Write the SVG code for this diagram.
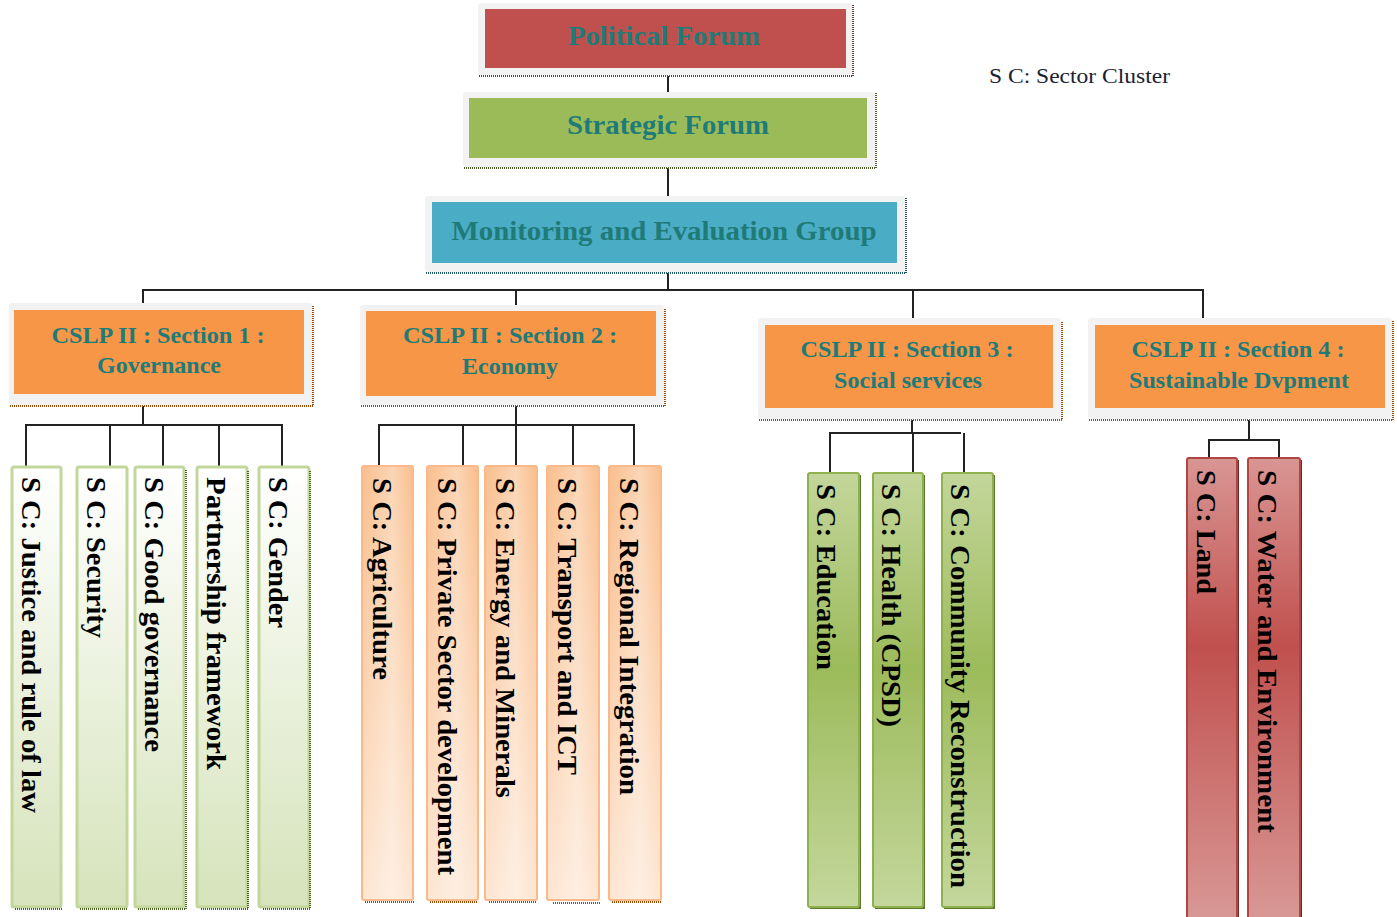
<svg xmlns="http://www.w3.org/2000/svg" width="1397" height="917" viewBox="0 0 1397 917">
<defs>
<linearGradient id="gLeaf1" x1="0" y1="0" x2="0" y2="1"><stop offset="0" stop-color="#ffffff"/><stop offset="1" stop-color="#d6e3bb"/></linearGradient>
<linearGradient id="gLeaf2" x1="0" y1="0" x2="0" y2="1"><stop offset="0" stop-color="#f9bf8e"/><stop offset="1" stop-color="#fde6d3"/></linearGradient>
<linearGradient id="gLeaf2h" x1="0" y1="0" x2="1" y2="0"><stop offset="0" stop-color="#ffffff" stop-opacity="0"/><stop offset="0.6" stop-color="#ffffff" stop-opacity="0.35"/><stop offset="1" stop-color="#ffffff" stop-opacity="0"/></linearGradient>
<linearGradient id="gLeaf3" x1="0" y1="0" x2="0" y2="1"><stop offset="0" stop-color="#c3d69b"/><stop offset="0.45" stop-color="#9cbb5a"/><stop offset="1" stop-color="#c4d79d"/></linearGradient>
<linearGradient id="gLeaf4" x1="0" y1="0" x2="0" y2="1"><stop offset="0" stop-color="#d99694"/><stop offset="0.4" stop-color="#c0504d"/><stop offset="1" stop-color="#d99a98"/></linearGradient>
</defs>
<style>
.frame{fill:#f2f2f2}
.t-main{font-family:"Liberation Serif","Times New Roman",serif;font-weight:bold;fill:#1e7b78;text-anchor:middle}
.t-leaf{font-family:"Liberation Serif","Times New Roman",serif;font-size:28px;font-weight:bold;fill:#000}
.dot{fill:none;stroke-width:2;stroke-dasharray:1 1}
.conn line{stroke:#222;stroke-width:2}
.l1{fill:url(#gLeaf1);stroke:#c3d69b;stroke-width:3}
.l2{fill:url(#gLeaf2);stroke:#f9b98a;stroke-width:2}
.l3{fill:url(#gLeaf3);stroke:#8fb04e;stroke-width:2}
.l4{fill:url(#gLeaf4);stroke:#b04643;stroke-width:2}
</style>
<rect width="1397" height="917" fill="#ffffff"/>

<g id="connectors" class="conn">
<line x1="668" y1="76" x2="668" y2="92"/>
<line x1="668" y1="168" x2="668" y2="196"/>
<line x1="668" y1="273" x2="668" y2="290"/>
<line x1="142" y1="290" x2="1204" y2="290"/>
<line x1="143" y1="290" x2="143" y2="303"/>
<line x1="516" y1="290" x2="516" y2="305"/>
<line x1="913" y1="290" x2="913" y2="318"/>
<line x1="1203" y1="290" x2="1203" y2="318"/>
<line x1="143" y1="406" x2="143" y2="425"/>
<line x1="25" y1="425" x2="283" y2="425"/>
<line x1="26" y1="425" x2="26" y2="466"/>
<line x1="110" y1="425" x2="110" y2="466"/>
<line x1="163" y1="425" x2="163" y2="466"/>
<line x1="219" y1="425" x2="219" y2="466"/>
<line x1="282" y1="425" x2="282" y2="466"/>
<line x1="516" y1="406" x2="516" y2="425"/>
<line x1="378" y1="425" x2="635" y2="425"/>
<line x1="379" y1="425" x2="379" y2="466"/>
<line x1="463" y1="425" x2="463" y2="466"/>
<line x1="516" y1="425" x2="516" y2="466"/>
<line x1="573" y1="425" x2="573" y2="466"/>
<line x1="634" y1="425" x2="634" y2="466"/>
<line x1="912" y1="420" x2="912" y2="433"/>
<line x1="829" y1="433" x2="961" y2="433"/>
<line x1="830" y1="433" x2="830" y2="473"/>
<line x1="913" y1="433" x2="913" y2="473"/>
<line x1="964" y1="433" x2="964" y2="473"/>
<line x1="1249" y1="420" x2="1249" y2="440"/>
<line x1="1208" y1="440" x2="1280" y2="440"/>
<line x1="1209" y1="440" x2="1209" y2="458"/>
<line x1="1279" y1="440" x2="1279" y2="458"/>
</g>

<g id="political-forum">
<rect class="frame" x="478" y="3" width="374" height="72" rx="3"/>
<rect x="485" y="9" width="361" height="59" fill="#c0504d"/>
<path class="dot" d="M479 76 H853 V5" stroke="#6b3a38"/>
<text class="t-main" x="664" y="45" font-size="28" textLength="192" lengthAdjust="spacingAndGlyphs">Political Forum</text>
</g>

<g id="strategic-forum">
<rect class="frame" x="463" y="92" width="412" height="75" rx="3"/>
<rect x="469" y="98" width="398" height="60" fill="#9bbb59"/>
<path class="dot" d="M464 168 H876 V93" stroke="#4f6229"/>
<text class="t-main" x="668" y="134" font-size="28" textLength="202" lengthAdjust="spacingAndGlyphs">Strategic Forum</text>
</g>

<g id="me-group">
<rect class="frame" x="425" y="196" width="480" height="76" rx="3"/>
<rect x="432" y="202" width="465" height="61" fill="#4bacc6"/>
<path class="dot" d="M426 273 H906 V197" stroke="#205867"/>
<text class="t-main" x="664" y="240" font-size="28" textLength="425" lengthAdjust="spacingAndGlyphs">Monitoring and Evaluation Group</text>
</g>

<g id="legend">
<text x="989" y="83" font-family="'Liberation Serif','Times New Roman',serif" font-size="21" fill="#1c2233" textLength="181" lengthAdjust="spacingAndGlyphs">S C: Sector Cluster</text>
</g>

<g id="section-1">
<rect class="frame" x="9" y="303" width="303" height="102" rx="3"/>
<rect x="14" y="310" width="290" height="84" fill="#f79646"/>
<path class="dot" d="M10 406 H313 V306" stroke="#984807"/>
<text class="t-main" x="158" y="343" font-size="23" textLength="213" lengthAdjust="spacingAndGlyphs">CSLP II : Section 1 :</text>
<text class="t-main" x="159" y="373" font-size="23" textLength="124" lengthAdjust="spacingAndGlyphs">Governance</text>
</g>

<g id="section-2">
<rect class="frame" x="360" y="305" width="304" height="100" rx="3"/>
<rect x="366" y="311" width="290" height="85" fill="#f79646"/>
<path class="dot" d="M361 406 H665 V308" stroke="#984807"/>
<text class="t-main" x="510" y="343" font-size="23" textLength="214" lengthAdjust="spacingAndGlyphs">CSLP II : Section 2 :</text>
<text class="t-main" x="510" y="374" font-size="23" textLength="96" lengthAdjust="spacingAndGlyphs">Economy</text>
</g>

<g id="section-3">
<rect class="frame" x="758" y="318" width="303" height="101" rx="3"/>
<rect x="765" y="325" width="288" height="83" fill="#f79646"/>
<path class="dot" d="M759 420 H1062 V321" stroke="#984807"/>
<text class="t-main" x="907" y="357" font-size="23" textLength="213" lengthAdjust="spacingAndGlyphs">CSLP II : Section 3 :</text>
<text class="t-main" x="908" y="388" font-size="23" textLength="148" lengthAdjust="spacingAndGlyphs">Social services</text>
</g>

<g id="section-4">
<rect class="frame" x="1088" y="318" width="304" height="101" rx="3"/>
<rect x="1095" y="325" width="290" height="83" fill="#f79646"/>
<path class="dot" d="M1089 420 H1393 V321" stroke="#984807"/>
<text class="t-main" x="1238" y="357" font-size="23" textLength="213" lengthAdjust="spacingAndGlyphs">CSLP II : Section 4 :</text>
<text class="t-main" x="1239" y="388" font-size="23" textLength="220" lengthAdjust="spacingAndGlyphs">Sustainable Dvpment</text>
</g>

<!-- Group 1 leaves -->
<g id="sc-justice">
<rect class="l1" x="12" y="467" width="49" height="440" rx="2"/>
<path class="dot" d="M15 909 H62" stroke="#4f6229"/>
<text class="t-leaf" transform="translate(22,477) rotate(90)" textLength="336" lengthAdjust="spacingAndGlyphs">S C: Justice and rule of law</text>
</g>
<g id="sc-security">
<rect class="l1" x="77" y="467" width="50" height="440" rx="2"/>
<path class="dot" d="M80 909 H127" stroke="#4f6229"/>
<text class="t-leaf" transform="translate(87,477) rotate(90)" textLength="161" lengthAdjust="spacingAndGlyphs">S C: Security</text>
</g>
<g id="sc-good-governance">
<rect class="l1" x="135" y="467" width="49" height="440" rx="2"/>
<path class="dot" d="M138 909 H186 V470" stroke="#4f6229"/>
<text class="t-leaf" transform="translate(145,477) rotate(90)" textLength="275" lengthAdjust="spacingAndGlyphs">S C: Good governance</text>
</g>
<g id="partnership-framework">
<rect class="l1" x="197" y="467" width="50" height="440" rx="2"/>
<path class="dot" d="M201 909 H248 V470" stroke="#4f6229"/>
<text class="t-leaf" transform="translate(207,477) rotate(90)" textLength="293" lengthAdjust="spacingAndGlyphs">Partnership framework</text>
</g>
<g id="sc-gender">
<rect class="l1" x="259" y="467" width="50" height="440" rx="2"/>
<path class="dot" d="M263 909 H310 V470" stroke="#4f6229"/>
<text class="t-leaf" transform="translate(269,477) rotate(90)" textLength="151" lengthAdjust="spacingAndGlyphs">S C: Gender</text>
</g>

<!-- Group 2 leaves -->
<g id="sc-agriculture">
<rect class="l2" x="362" y="466" width="51" height="434" rx="2"/>
<rect x="363" y="467" width="49" height="432" fill="url(#gLeaf2h)"/>
<path class="dot" d="M365 902 H414" stroke="#984807"/>
<text class="t-leaf" transform="translate(373,478) rotate(90)" textLength="202" lengthAdjust="spacingAndGlyphs">S C: Agriculture</text>
</g>
<g id="sc-private-sector">
<rect class="l2" x="427" y="466" width="51" height="434" rx="2"/>
<rect x="428" y="467" width="49" height="432" fill="url(#gLeaf2h)"/>
<path class="dot" d="M430 902 H478" stroke="#984807"/>
<text class="t-leaf" transform="translate(438,478) rotate(90)" textLength="397" lengthAdjust="spacingAndGlyphs">S C: Private Sector development</text>
</g>
<g id="sc-energy">
<rect class="l2" x="485" y="466" width="52" height="434" rx="2"/>
<rect x="486" y="467" width="50" height="432" fill="url(#gLeaf2h)"/>
<path class="dot" d="M489 902 H537" stroke="#984807"/>
<text class="t-leaf" transform="translate(496,478) rotate(90)" textLength="320" lengthAdjust="spacingAndGlyphs">S C: Energy and Minerals</text>
</g>
<g id="sc-transport">
<rect class="l2" x="547" y="466" width="52" height="434" rx="2"/>
<rect x="548" y="467" width="50" height="432" fill="url(#gLeaf2h)"/>
<path class="dot" d="M553 903 H600" stroke="#984807"/>
<text class="t-leaf" transform="translate(558,478) rotate(90)" textLength="297" lengthAdjust="spacingAndGlyphs">S C: Transport and ICT</text>
</g>
<g id="sc-regional">
<rect class="l2" x="609" y="466" width="52" height="434" rx="2"/>
<rect x="610" y="467" width="50" height="432" fill="url(#gLeaf2h)"/>
<path class="dot" d="M612 902 H661" stroke="#984807"/>
<text class="t-leaf" transform="translate(620,478) rotate(90)" textLength="317" lengthAdjust="spacingAndGlyphs">S C: Regional Integration</text>
</g>

<!-- Group 3 leaves -->
<g id="sc-education">
<rect x="810" y="475" width="51" height="434" fill="#5f7a2e"/>
<rect class="l3" x="808" y="473" width="51" height="434" rx="2"/>
<text class="t-leaf" transform="translate(817,484) rotate(90)" textLength="186" lengthAdjust="spacingAndGlyphs">S C: Education</text>
</g>
<g id="sc-health">
<rect x="875" y="475" width="50" height="434" fill="#5f7a2e"/>
<rect class="l3" x="873" y="473" width="50" height="434" rx="2"/>
<text class="t-leaf" transform="translate(882,484) rotate(90)" textLength="243" lengthAdjust="spacingAndGlyphs">S C: Health (CPSD)</text>
</g>
<g id="sc-community">
<rect x="944" y="475" width="51" height="434" fill="#5f7a2e"/>
<rect class="l3" x="942" y="473" width="51" height="434" rx="2"/>
<text class="t-leaf" transform="translate(951,484) rotate(90)" textLength="404" lengthAdjust="spacingAndGlyphs">S C: Community Reconstruction</text>
</g>

<!-- Group 4 leaves -->
<g id="sc-land">
<rect x="1189" y="460" width="50" height="470" fill="#6e2a28"/>
<rect class="l4" x="1187" y="458" width="50" height="470" rx="2"/>
<text class="t-leaf" transform="translate(1197,470) rotate(90)" textLength="124" lengthAdjust="spacingAndGlyphs">S C: Land</text>
</g>
<g id="sc-water">
<rect x="1250" y="460" width="52" height="470" fill="#6e2a28"/>
<rect class="l4" x="1248" y="458" width="52" height="470" rx="2"/>
<text class="t-leaf" transform="translate(1258,470) rotate(90)" textLength="363" lengthAdjust="spacingAndGlyphs">S C: Water and Environment</text>
</g>
</svg>
